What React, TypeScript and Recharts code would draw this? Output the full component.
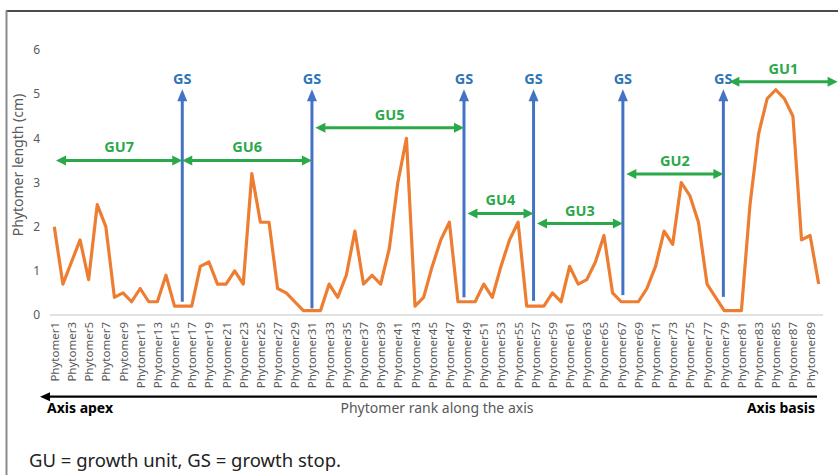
import React from 'react';
import { LineChart, Line, XAxis, YAxis, ReferenceLine } from 'recharts';

const ranks = [
  1, 2, 3, 4, 5, 6, 7, 8, 9, 10, 11, 12, 13, 14, 15, 16, 17, 18, 19, 20,
  21, 22, 23, 24, 25, 26, 27, 28, 29, 30, 31, 32, 33, 34, 35, 36, 37, 38, 39, 40,
  41, 42, 43, 44, 45, 46, 47, 48, 49, 50, 51, 52, 53, 54, 55, 56, 57, 58, 59, 60,
  61, 62, 63, 64, 65, 66, 67, 68, 69, 70, 71, 72, 73, 74, 75, 76, 77, 78, 79, 80,
  81, 82, 83, 84, 85, 86, 87, 88, 89, 90,
];

const lengths = [
  2.0, 0.7, 1.2, 1.7, 0.8, 2.5, 2.0, 0.4, 0.5, 0.3,
  0.6, 0.3, 0.3, 0.9, 0.2, 0.2, 0.2, 1.1, 1.2, 0.7,
  0.7, 1.0, 0.7, 3.2, 2.1, 2.1, 0.6, 0.5, 0.3, 0.1,
  0.1, 0.1, 0.7, 0.4, 0.9, 1.9, 0.7, 0.9, 0.7, 1.5,
  3.0, 4.0, 0.2, 0.4, 1.1, 1.7, 2.1, 0.3, 0.3, 0.3,
  0.7, 0.4, 1.1, 1.7, 2.1, 0.2, 0.2, 0.2, 0.5, 0.3,
  1.1, 0.7, 0.8, 1.2, 1.8, 0.5, 0.3, 0.3, 0.3, 0.6,
  1.1, 1.9, 1.6, 3.0, 2.7, 2.1, 0.7, 0.4, 0.1, 0.1,
  0.1, 2.5, 4.1, 4.9, 5.1, 4.9, 4.5, 1.7, 1.8, 0.7,
];

const tickRanks = [
  1, 3, 5, 7, 9, 11, 13, 15, 17, 19, 21, 23, 25, 27, 29, 31, 33, 35, 37, 39,
  41, 43, 45, 47, 49, 51, 53, 55, 57, 59, 61, 63, 65, 67, 69, 71, 73, 75, 77, 79,
  81, 83, 85, 87, 89,
];
const yTicks = [0, 1, 2, 3, 4, 5, 6];

// growth stops (GS): rank position, bottom of arrow
const gsRanks = [15.9, 31.0, 48.7, 56.8, 67.2, 78.9];
const gsBottoms = [0.3, 0.15, 0.4, 0.32, 0.45, 0.41];
const gsTop = 5.11;

// growth units (GU)
const guLabels = ['GU7', 'GU6', 'GU5', 'GU4', 'GU3', 'GU2', 'GU1'];
const guFrom = [1.2, 15.9, 31.4, 49.1, 57.2, 67.6, 79.6];
const guTo = [15.9, 31.0, 48.7, 56.8, 67.2, 78.9, 92.2];
const guLevels = [3.5, 3.5, 4.24, 2.3, 2.07, 3.19, 5.28];

const data = ranks.map((r, i) => ({ rank: r, length: lengths[i] }));

const FONT = '"Noto Sans", "Open Sans", sans-serif';
const ORANGE = '#ED7D31';
const BLUE = '#4472C4';
const BLUE_TEXT = '#2E75B6';
const GREEN = '#2BA84A';
const GRAY_TEXT = '#595959';

const RotTick = (props: any) => {
  const { x, y, payload } = props;
  return (
    <text
      x={x}
      y={y - 1}
      transform={`rotate(-90 ${x} ${y - 1})`}
      textAnchor="end"
      dominantBaseline="central"
      fontSize={11.5}
      fontFamily={FONT}
      fill={GRAY_TEXT}
    >
      {`Phytomer${payload.value}`}
    </text>
  );
};

const GsArrow = (p: any) => {
  const { x1, y1, x2, y2 } = p;
  if (x1 == null || y1 == null) return <g />;
  const x = x2;
  return (
    <g>
      <line x1={x1} y1={y1} x2={x} y2={y2 + 10} stroke={BLUE} strokeWidth={3} />
      <polygon points={`${x},${y2} ${x - 5},${y2 + 12} ${x + 5},${y2 + 12}`} fill={BLUE} />
      <text
        x={x}
        y={y2 - 11}
        textAnchor="middle"
        dominantBaseline="central"
        fontSize={14.5}
        fontWeight={700}
        fontFamily={FONT}
        fill={BLUE_TEXT}
      >
        GS
      </text>
    </g>
  );
};

const makeGuArrow = (label: string) => (p: any) => {
  const { x1, y1, x2 } = p;
  if (x1 == null || y1 == null) return <g />;
  const a = Math.min(x1, x2);
  const b = Math.max(x1, x2);
  const y = y1;
  return (
    <g>
      <line x1={a + 8} y1={y} x2={b - 8} y2={y} stroke={GREEN} strokeWidth={3} />
      <polygon points={`${a},${y} ${a + 10},${y - 5} ${a + 10},${y + 5}`} fill={GREEN} />
      <polygon points={`${b},${y} ${b - 10},${y - 5} ${b - 10},${y + 5}`} fill={GREEN} />
      <text
        x={(a + b) / 2}
        y={y - 14}
        textAnchor="middle"
        dominantBaseline="central"
        fontSize={14.5}
        fontWeight={700}
        fontFamily={FONT}
        fill={GREEN}
      >
        {label}
      </text>
    </g>
  );
};

export default function App() {
  return (
    <div style={{ position: 'absolute', left: 0, top: 0, width: 838, height: 475, background: '#fff', fontFamily: FONT }}>
      <LineChart
        width={838}
        height={475}
        data={data}
        margin={{ top: 50, right: 15, bottom: 80, left: 0 }}
      >
        <XAxis
          dataKey="rank"
          type="number"
          domain={[0.5, 90.5]}
          ticks={tickRanks}
          interval={0}
          tick={<RotTick />}
          tickLine={false}
          axisLine={{ stroke: '#D9D9D9', strokeWidth: 1.5 }}
          height={80}
        />
        <YAxis
          domain={[0, 6]}
          ticks={yTicks}
          axisLine={false}
          tickLine={false}
          width={50}
          tickMargin={4}
          tick={{ fill: GRAY_TEXT, fontSize: 12, fontFamily: FONT }}
        />
        <Line
          type="linear"
          dataKey="length"
          stroke={ORANGE}
          strokeWidth={3.2}
          strokeLinejoin="round"
          dot={false}
          activeDot={false}
          isAnimationActive={false}
        />
        {gsRanks.map((r, i) => (
          <ReferenceLine
            key={`gs${i}`}
            segment={[{ x: r, y: gsBottoms[i] }, { x: r, y: gsTop }]}
            ifOverflow="visible"
            shape={GsArrow}
          />
        ))}
        {guLabels.map((l, i) => (
          <ReferenceLine
            key={`gu${i}`}
            segment={[{ x: guFrom[i], y: guLevels[i] }, { x: guTo[i], y: guLevels[i] }]}
            ifOverflow="visible"
            shape={makeGuArrow(l)}
          />
        ))}
      </LineChart>
      <svg
        width={838}
        height={475}
        style={{ position: 'absolute', left: 0, top: 0, pointerEvents: 'none' }}
      >
        <line x1={6} y1={11} x2={838} y2={11} stroke="#111" strokeWidth={1.3} />
        <line x1={6.5} y1={10.5} x2={6.5} y2={475} stroke="#8C8C8C" strokeWidth={2} />
        <text
          x={17}
          y={165}
          transform="rotate(-90 17 165)"
          textAnchor="middle"
          dominantBaseline="central"
          fontSize={14}
          fontFamily={FONT}
          fill={GRAY_TEXT}
        >
          Phytomer length (cm)
        </text>
        <line x1={48} y1={396.7} x2={817} y2={396.7} stroke="#000" strokeWidth={2.2} />
        <polygon points="40,396.7 50,392.2 50,401.2" fill="#000" />
        <text x={47} y={413} fontSize={14} fontWeight={700} fontFamily={FONT} fill="#000">
          Axis apex
        </text>
        <text x={437} y={413} textAnchor="middle" fontSize={14} fontFamily={FONT} fill={GRAY_TEXT}>
          Phytomer rank along the axis
        </text>
        <text x={815} y={413} textAnchor="end" fontSize={14} fontWeight={700} fontFamily={FONT} fill="#000">
          Axis basis
        </text>
        <text x={29} y={467} fontSize={18.5} fontFamily={FONT} fill="#222">
          GU = growth unit, GS = growth stop.
        </text>
      </svg>
    </div>
  );
}
